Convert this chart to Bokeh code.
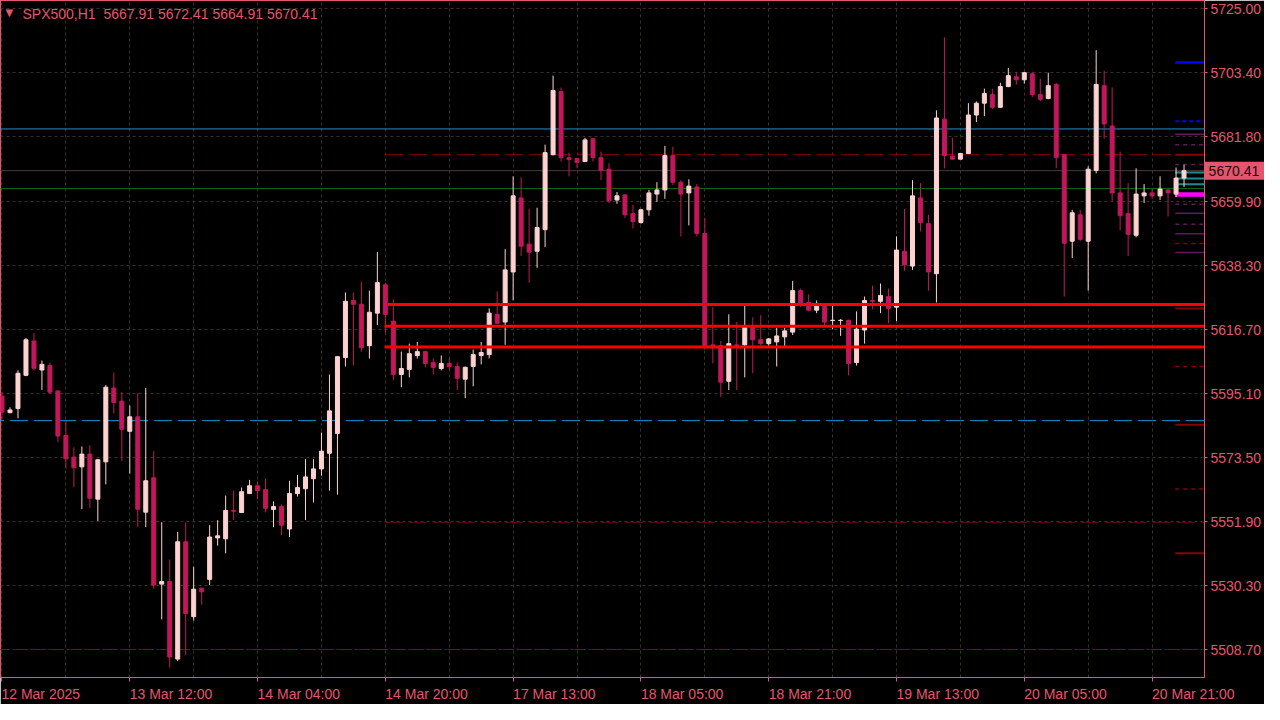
from bokeh.plotting import figure
from bokeh.models import FixedTicker, NumeralTickFormatter, Label, ColumnDataSource, Range1d
from bokeh.core.properties import value
from bokeh.embed import file_html
from bokeh.resources import INLINE

# ---------------- data (SPX500, H1) ----------------
opens = [5594.3, 5588.7, 5590.1, 5601.3, 5612.9, 5603.1, 5604.6, 5596.0, 5581.0, 5573.7,
         5570.4, 5574.7, 5559.5, 5572.1, 5597.0, 5592.6, 5582.4, 5587.3, 5555.1, 5566.7,
         5530.8, 5531.7, 5505.5, 5545.1, 5519.8, 5529.4, 5532.4, 5546.4, 5546.1, 5555.7,
         5555.0, 5561.4, 5564.0, 5562.7, 5556.0, 5557.0, 5549.4, 5561.4, 5563.0, 5566.4,
         5569.7, 5575.0, 5581.7, 5607.3, 5626.6, 5625.3, 5611.3, 5622.3, 5631.9, 5619.6,
         5601.6, 5603.3, 5608.0, 5609.3, 5605.6, 5603.6, 5605.3, 5604.3, 5600.0, 5604.3,
         5608.0, 5608.3, 5621.9, 5619.3, 5636.2, 5661.2, 5645.6, 5643.2, 5650.5, 5675.8,
         5697.1, 5674.8, 5674.5, 5673.5, 5681.2, 5674.8, 5670.9, 5660.5, 5662.2, 5655.9,
         5652.9, 5657.2, 5662.5, 5663.9, 5675.5, 5666.5, 5662.9, 5664.9, 5649.2, 5611.6,
         5611.3, 5599.3, 5611.6, 5611.6, 5617.6, 5613.3, 5612.0, 5612.6, 5614.3, 5615.9,
         5629.9, 5625.9, 5623.3, 5624.6, 5619.8, 5619.8, 5619.9, 5605.6, 5616.6, 5626.6,
         5626.3, 5627.9, 5624.3, 5643.2, 5638.2, 5661.2, 5652.5, 5635.6, 5687.8, 5675.3,
         5674.3, 5676.2, 5689.2, 5693.2, 5696.1, 5691.8, 5698.8, 5702.1, 5701.1, 5703.1,
         5696.1, 5694.8, 5699.5, 5675.8, 5646.6, 5655.5, 5646.6, 5670.5, 5699.1, 5685.5,
         5662.9, 5655.9, 5648.6, 5661.9, 5662.9, 5661.9, 5663.9, 5662.5, 5667.91]
highs = [5595.7, 5590.5, 5603.0, 5613.9, 5615.6, 5606.3, 5605.6, 5596.3, 5585.8, 5577.0,
         5577.3, 5577.7, 5573.1, 5598.0, 5602.3, 5595.6, 5591.1, 5595.3, 5597.0, 5575.7,
         5551.7, 5539.1, 5548.4, 5551.7, 5536.7, 5529.7, 5550.7, 5552.4, 5560.7, 5562.4,
         5563.4, 5566.0, 5565.4, 5566.4, 5558.7, 5557.7, 5565.7, 5567.7, 5573.0, 5573.0,
         5582.0, 5601.6, 5607.8, 5629.3, 5629.3, 5632.9, 5629.9, 5642.9, 5632.6, 5626.9,
         5609.3, 5612.0, 5612.6, 5609.6, 5607.0, 5608.0, 5607.0, 5605.6, 5604.3, 5610.0,
         5612.6, 5623.9, 5629.6, 5643.9, 5668.5, 5668.2, 5657.5, 5657.9, 5679.2, 5702.5,
         5698.5, 5676.5, 5674.8, 5681.5, 5681.4, 5676.8, 5672.9, 5663.2, 5662.5, 5658.9,
         5657.5, 5663.9, 5666.5, 5678.8, 5678.5, 5667.2, 5667.5, 5665.9, 5654.5, 5624.3,
         5612.9, 5621.9, 5619.3, 5625.6, 5620.9, 5621.6, 5613.9, 5617.3, 5617.3, 5633.2,
         5630.6, 5628.6, 5626.6, 5624.8, 5625.3, 5620.3, 5620.1, 5622.9, 5627.9, 5631.6,
         5632.3, 5630.6, 5648.2, 5657.5, 5667.2, 5666.2, 5655.5, 5690.8, 5715.4, 5681.5,
         5676.4, 5693.2, 5693.8, 5698.1, 5698.1, 5700.1, 5705.1, 5703.8, 5703.8, 5703.8,
         5701.5, 5703.5, 5700.1, 5676.0, 5657.2, 5657.2, 5671.9, 5711.1, 5704.1, 5698.5,
         5676.8, 5666.2, 5671.2, 5665.9, 5664.2, 5668.5, 5664.2, 5671.5, 5672.41]
lows = [5586.3, 5588.5, 5586.8, 5601.0, 5602.9, 5596.4, 5595.1, 5578.8, 5569.8, 5563.5,
        5556.1, 5556.5, 5552.1, 5564.5, 5588.4, 5572.4, 5568.1, 5550.1, 5550.1, 5529.2,
        5518.9, 5502.6, 5504.8, 5506.9, 5518.5, 5523.9, 5530.5, 5543.8, 5541.2, 5552.4,
        5554.9, 5561.2, 5559.4, 5555.0, 5550.0, 5547.4, 5546.7, 5560.4, 5552.4, 5558.4,
        5567.4, 5562.4, 5561.0, 5604.3, 5604.6, 5609.3, 5607.0, 5618.3, 5615.6, 5599.6,
        5597.3, 5600.6, 5607.0, 5604.0, 5601.6, 5603.0, 5603.3, 5596.3, 5593.6, 5597.6,
        5605.0, 5607.0, 5618.6, 5611.6, 5626.6, 5641.6, 5632.6, 5637.6, 5644.6, 5675.6,
        5673.5, 5668.5, 5671.2, 5673.3, 5673.5, 5667.2, 5659.5, 5659.2, 5654.5, 5650.9,
        5652.5, 5655.2, 5659.9, 5660.9, 5665.5, 5648.2, 5651.9, 5648.2, 5610.0, 5605.3,
        5594.0, 5596.3, 5596.3, 5600.6, 5602.0, 5611.3, 5611.3, 5604.3, 5610.6, 5614.9,
        5624.3, 5622.9, 5622.3, 5618.3, 5616.9, 5614.6, 5601.3, 5604.6, 5612.0, 5623.6,
        5622.3, 5618.9, 5619.6, 5636.6, 5636.9, 5649.9, 5629.9, 5625.9, 5671.2, 5674.0,
        5674.2, 5676.0, 5686.8, 5688.8, 5691.2, 5691.7, 5698.6, 5699.5, 5699.8, 5695.2,
        5693.8, 5694.5, 5671.2, 5627.9, 5640.9, 5646.6, 5629.9, 5669.5, 5681.2, 5660.2,
        5650.2, 5641.6, 5647.9, 5659.5, 5660.9, 5660.5, 5654.9, 5661.5, 5664.91]
closes = [5588.9, 5589.6, 5602.0, 5613.3, 5603.7, 5605.0, 5595.6, 5580.8, 5573.1, 5570.1,
          5574.7, 5559.8, 5572.8, 5597.3, 5592.1, 5583.1, 5587.3, 5556.1, 5565.7, 5530.5,
          5531.7, 5506.2, 5545.1, 5520.9, 5529.1, 5528.2, 5546.7, 5547.1, 5555.7, 5555.4,
          5562.0, 5564.0, 5562.4, 5556.4, 5557.0, 5550.7, 5561.4, 5563.4, 5567.0, 5569.7,
          5575.7, 5589.3, 5607.6, 5626.3, 5625.3, 5610.6, 5622.6, 5632.6, 5621.9, 5601.6,
          5603.6, 5608.6, 5609.3, 5605.3, 5604.0, 5605.3, 5604.3, 5600.3, 5604.0, 5608.3,
          5609.0, 5622.3, 5618.9, 5636.9, 5661.9, 5644.9, 5642.9, 5651.2, 5676.5, 5697.5,
          5674.8, 5674.2, 5673.2, 5680.8, 5674.8, 5670.5, 5660.2, 5661.9, 5655.5, 5653.2,
          5657.2, 5662.9, 5663.9, 5675.5, 5666.5, 5662.5, 5665.2, 5649.2, 5611.3, 5611.3,
          5599.0, 5612.0, 5611.4, 5617.6, 5613.3, 5612.0, 5613.6, 5614.6, 5616.3, 5629.9,
          5625.6, 5623.3, 5624.6, 5619.3, 5619.9, 5619.9, 5605.3, 5616.9, 5626.6, 5626.3,
          5628.3, 5623.9, 5643.6, 5638.6, 5661.9, 5652.9, 5636.2, 5688.2, 5675.5, 5674.3,
          5676.2, 5689.2, 5693.2, 5696.5, 5691.8, 5698.8, 5702.5, 5701.1, 5703.5, 5696.1,
          5694.5, 5699.1, 5674.8, 5645.9, 5656.2, 5647.2, 5670.9, 5699.5, 5686.2, 5662.9,
          5655.2, 5648.9, 5662.5, 5662.9, 5661.9, 5664.2, 5662.9, 5667.9, 5670.41]

time_label_bars = [0, 16, 32, 48, 64, 80, 96, 112, 128, 144]
time_labels = ["12 Mar 2025", "13 Mar 12:00", "14 Mar 04:00", "14 Mar 20:00", "17 Mar 13:00",
               "18 Mar 05:00", "18 Mar 21:00", "19 Mar 13:00", "20 Mar 05:00", "20 Mar 21:00"]
price_ticks = [5508.70, 5530.30, 5551.90, 5573.50, 5595.10, 5616.70, 5638.30,
               5659.90, 5681.80, 5703.40, 5725.00]

symbol = "SPX500,H1"
last_ohlc = [5667.91, 5672.41, 5664.91, 5670.41]

# horizontal levels drawn on the chart
sky_solid_level = 5684.5
green_level = 5664.4
sky_dash_level = 5586.0
green_dash_level = 5508.7
darkred_dash_level = 5675.8
darkred_faint_level = 5551.6
red_zone_levels = [5625.2, 5617.9, 5610.9]
blue_levels = [5706.9]
blue_dash_levels = [5687.1]
purple_solid_levels = [5682.7, 5656.0, 5649.1, 5642.8]
purple_dash_levels = [5679.2, 5672.5, 5659.1, 5652.3]
teal_levels = [5669.8, 5667.8, 5665.8]
magenta_levels = [5662.4]
darkred_short_levels = [5675.8, 5623.9, 5584.6, 5541.2]
darkred_short_dash_levels = [5645.8, 5604.3, 5562.9]

# ---------------- styling ----------------
PINK = "#E5566E"
BULL = "#FCD3D0"
BEAR = "#C2185B"
GRID = "#3b3125"
FONT = "Liberation Sans"

X0, X1 = -0.1875, 150.5625
Y0, Y1 = 5499.27, 5727.87
FRAME_H = 678          # px (704 - bottom border)
PX_PER_PT = FRAME_H / (Y1 - Y0)

n = len(opens)
idx = list(range(n))
src = ColumnDataSource(dict(
    x=idx, o=opens, h=highs, l=lows, c=closes,
    top=[max(a, b) for a, b in zip(opens, closes)],
    bot=[min(a, b) for a, b in zip(opens, closes)],
    col=[BULL if c >= o else BEAR for o, c in zip(opens, closes)],
))

p = figure(width=1264, height=704, output_backend="svg", toolbar_location=None,
           x_range=Range1d(X0, X1), y_range=Range1d(Y0, Y1),
           y_axis_location="right", min_border_left=0, min_border_right=58,
           min_border_top=0, min_border_bottom=26,
           background_fill_color="black", border_fill_color="black")
p.outline_line_color = PINK
p.outline_line_width = 1

# grids
p.xgrid.ticker = FixedTicker(ticks=list(range(0, 152, 8)))
for g in (p.xgrid, p.ygrid):
    g.grid_line_color = GRID
    g.grid_line_dash = "3 3"
    g.grid_line_width = 1

# x axis: labels left-aligned at bar ticks (label centres shifted right)
xt = [4.85] + [b + 5.16 for b in time_label_bars[1:]]
p.xaxis.ticker = FixedTicker(ticks=xt, minor_ticks=time_label_bars)
p.xaxis.major_label_overrides = {t: s for t, s in zip(xt, time_labels)}
p.xaxis.major_tick_line_color = None
p.xaxis.major_tick_out = 0
p.xaxis.major_tick_in = 0
p.xaxis.minor_tick_out = 4
p.xaxis.minor_tick_in = 0
p.xaxis.minor_tick_line_color = PINK
p.xaxis.axis_line_color = PINK
p.xaxis.major_label_standoff = 4
p.xaxis.major_label_text_font = FONT
p.xaxis.major_label_text_font_size = "14px"
p.xaxis.major_label_text_color = PINK

# y axis (right)
p.yaxis.ticker = FixedTicker(ticks=price_ticks)
p.yaxis.formatter = NumeralTickFormatter(format="0.00")
p.yaxis.axis_line_color = PINK
p.yaxis.major_tick_line_color = PINK
p.yaxis.major_tick_out = 3
p.yaxis.major_tick_in = 0
p.yaxis.minor_tick_line_color = None
p.yaxis.major_label_standoff = 3
p.yaxis.major_label_text_font = FONT
p.yaxis.major_label_text_font_size = "14px"
p.yaxis.major_label_text_color = PINK


def hline(y, x0, x1, color, width=1.0, dash="solid"):
    p.segment(x0=[x0], y0=[y], x1=[x1], y1=[y], line_color=color,
              line_width=width, line_dash=dash)


LEFT, RIGHT = -5, 160
# full-width levels
hline(green_dash_level, LEFT, RIGHT, "#0d4a12", 1, "12 6")
hline(sky_solid_level, LEFT, RIGHT, "#1C93D0", 1)
hline(last_ohlc[3], LEFT, RIGHT, "#4a3c36", 1)
hline(green_level, LEFT, RIGHT, "#0a6a10", 1)
hline(sky_dash_level, LEFT, RIGHT, "#1C93D0", 1, "18 6")
# levels starting at 14 Mar 20:00
hline(darkred_dash_level, 47.95, RIGHT, "#8B0000", 1, "18 6")
hline(darkred_faint_level, 47.95, RIGHT, "#4e0a0a", 1, "18 6")

# short levels at the right edge
RX0 = 146.9
for lv in blue_levels:
    hline(lv, RX0, RIGHT, "#0000FF", 2.5)
for lv in blue_dash_levels:
    hline(lv, RX0, RIGHT, "#0000FF", 2, "4 3")
for lv in purple_solid_levels:
    hline(lv, RX0, RIGHT, "#5e1a5c", 1.5)
for lv in purple_dash_levels:
    hline(lv, RX0, RIGHT, "#5e1a5c", 1.5, "4 4")
for lv in darkred_short_levels:
    hline(lv, RX0, RIGHT, "#8B0000", 2)
for lv in darkred_short_dash_levels:
    hline(lv, RX0, RIGHT, "#8B0000", 1.5, "4 4")
for lv in teal_levels:
    hline(lv, RX0, RIGHT, "#1f8a8a", 2)
for lv in magenta_levels:
    hline(lv, RX0, RIGHT, "#FF00FF", 4.5)

# candles
p.segment(x0="x", y0="l", x1="x", y1="h", line_color="col", line_width=1, source=src)
p.vbar(x="x", top="top", bottom="bot", width=0.5, fill_color="col", line_color="col",
       line_width=1, source=src)

# red zone lines (drawn over candles)
starts = [48.2, 47.9, 47.9]
for lv, s in zip(red_zone_levels, starts):
    hline(lv, s, RIGHT, "#FF0000", 3)

# title
title = "%s\u00a0 %s" % (symbol, " ".join("%.2f" % v for v in last_ohlc))
p.add_layout(Label(x=X0, y=Y1, x_offset=5, y_offset=-12, text="\u25bc",
                   text_font="DejaVu Sans", text_font_size="10px", text_color=PINK,
                   text_baseline="middle", text_align="left"))
p.add_layout(Label(x=X0, y=Y1, x_offset=22, y_offset=-13, text=title,
                   text_font=FONT, text_font_size="14px", text_color=PINK,
                   text_baseline="middle", text_align="left"))

# current price tag on the price axis (overlay level: not clipped to the frame)
half_box = 9.0 / PX_PER_PT
p.quad(left=[X1 - 0.0125], right=[X1 + 60 / 8.0], top=[last_ohlc[3] + half_box],
       bottom=[last_ohlc[3] - half_box], fill_color=PINK, line_color=None, level="overlay")
p.text(x=[X1 - 0.05], y=[last_ohlc[3]], text=["%.2f" % last_ohlc[3]], x_offset=4.5,
       text_font=value(FONT), text_font_size="14px", text_color="#1a080c",
       text_baseline="middle", text_align="left", level="overlay")

open("out.html", "w").write(file_html(p, INLINE))
